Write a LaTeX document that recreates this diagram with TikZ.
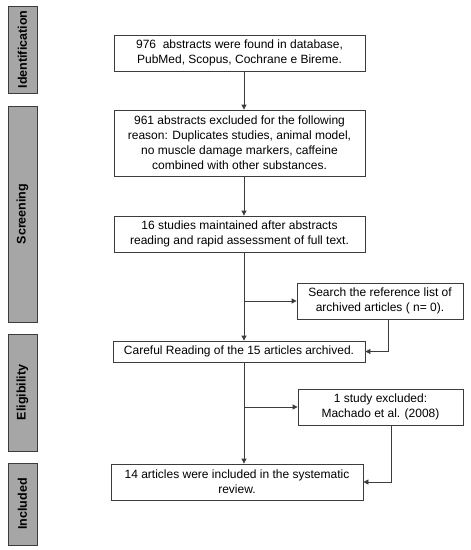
\documentclass[tikz,border=0pt]{standalone}
\usepackage{fontspec}
\setmainfont{Liberation Sans}
\usetikzlibrary{arrows.meta, positioning, calc}
\definecolor{flowgray}{RGB}{166, 166, 166}
\definecolor{flowline}{RGB}{60, 60, 60}
\tikzset{
    phase/.style={rectangle, draw=flowline, fill=flowgray, line width=0.9pt, rotate=90, minimum height=29pt, inner sep=0pt, font=\fontsize{12.5}{14}\selectfont\bfseries},
    flowbox/.style={rectangle, draw=flowline, fill=white, line width=0.8pt, align=center, inner sep=0pt, font=\fontsize{12}{15}\selectfont},
    link/.style={draw=flowline, line width=0.8pt, -{Triangle[length=5pt, width=5pt]}}
}
\begin{document}
\begin{tikzpicture}[x=1pt, y=-1pt]
    \useasboundingbox (0,0) rectangle (471,550);

    % Phase labels down the left side
    \node[phase, minimum width=87pt]  (ident)  at (22.5, 49.5)  {Identification};
    \node[phase, minimum width=216pt] (screen) at (22.5, 214)   {Screening};
    \node[phase, minimum width=117pt] (elig)   at (22.5, 392.5) {Eligibility};
    \node[phase, minimum width=82pt]  (incl)   at (22.5, 504)   {Included};

    % Main column of boxes
    \node[flowbox, minimum width=251pt, minimum height=36pt] (found)   at (239.5, 53)  {976\ \ abstracts were found in database,\\PubMed, Scopus, Cochrane e Bireme.};
    \node[flowbox, minimum width=251pt, minimum height=66pt] (excl)    at (239.5, 143) {961 abstracts excluded for the following\\reason: Duplicates studies, animal model,\\no muscle damage markers, caffeine\\combined with other substances.};
    \node[flowbox, minimum width=251pt, minimum height=36pt] (kept)    at (239.5, 234) {16 studies maintained after abstracts\\reading and rapid assessment of full text.};
    \node[flowbox, minimum width=252pt, minimum height=21pt] (careful) at (239, 351.5) {Careful Reading of the 15 articles archived.};
    \node[flowbox, minimum width=252pt, minimum height=36pt] (final)   at (237, 482)   {14 articles were included in the systematic\\review.};

    % Side boxes
    \node[flowbox, minimum width=166pt, minimum height=36pt] (search)  at (380, 301)   {Search the reference list of\\archived articles ( n= 0).};
    \node[flowbox, minimum width=165pt, minimum height=36pt] (study)   at (380.5, 407) {1 study excluded:\\Machado et al. (2008)};

    % Spine and return points
    \coordinate (spine) at (244, 0);
    \coordinate (backA) at (388, 0);
    \coordinate (backB) at (391, 0);

    % Connectors
    \draw[link] (found.south -| spine) -- (excl.north -| spine);
    \draw[link] (excl.south -| spine) -- (kept.north -| spine);
    \draw[link] (kept.south -| spine) -- (careful.north -| spine);
    \draw[link] (spine |- search.west) -- (search.west);
    \draw[link] (search.south -| backA) |- (careful.east);
    \draw[link] (careful.south -| spine) -- (final.north -| spine);
    \draw[link] (spine |- study.west) -- (study.west);
    \draw[link] (study.south -| backB) |- (final.east);
\end{tikzpicture}
\end{document}
